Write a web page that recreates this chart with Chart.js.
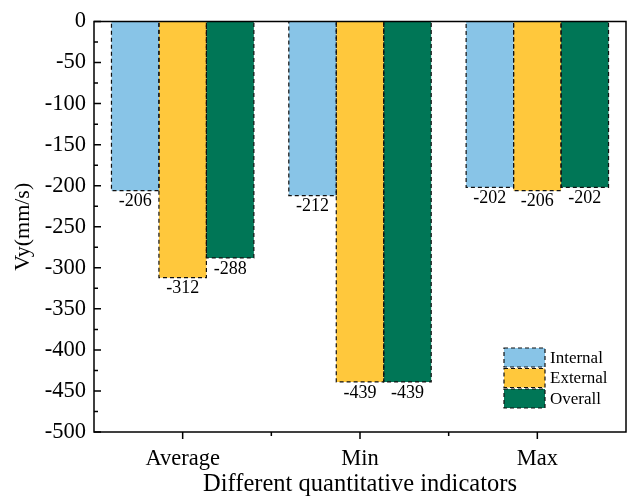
<!DOCTYPE html>
<html>
<head>
<meta charset="utf-8">
<script src="https://cdn.jsdelivr.net/npm/chart.js@4.4.0/dist/chart.umd.min.js"></script>
<style>
  html, body { margin: 0; padding: 0; background: #fff; }
  #wrap { width: 627px; height: 496px; }
</style>
</head>
<body>
<div id="wrap"><canvas id="chart"></canvas></div>
<script>
const categories = ['Average', 'Min', 'Max'];
const internalVals = [-206, -212, -202];
const externalVals = [-312, -439, -206];
const overallVals = [-288, -439, -202];
const seriesNames = ['Internal', 'External', 'Overall'];
const seriesColors = ['#88c4e7', '#ffc83c', '#007656'];

const SERIF = '"Liberation Serif", "Times New Roman", serif';

// dashed bar outlines + value labels under each bar
const barDecor = {
    id: 'barDecor',
    afterDatasetsDraw(chart) {
        const ctx = chart.ctx;
        ctx.save();
        chart.data.datasets.forEach((ds, i) => {
            const meta = chart.getDatasetMeta(i);
            meta.data.forEach((bar, j) => {
                const p = bar.getProps(['x', 'y', 'base', 'width'], true);
                const left = p.x - p.width / 2;
                ctx.setLineDash([4, 3]);
                ctx.lineWidth = 1.2;
                ctx.strokeStyle = '#111';
                ctx.strokeRect(left, p.base, p.width, p.y - p.base);
                ctx.setLineDash([]);
                ctx.fillStyle = '#000';
                ctx.font = '18px ' + SERIF;
                ctx.textAlign = 'center';
                ctx.textBaseline = 'top';
                ctx.fillText(String(ds.data[j]), p.x, p.y + 2);
            });
        });
        ctx.restore();
    }
};

// frame and tick marks (y inward, x outward)
const frameTicks = {
    id: 'frameTicks',
    afterDraw(chart) {
        const ctx = chart.ctx;
        const a = chart.chartArea;
        const y = chart.scales.y;
        const x = chart.scales.x;
        ctx.save();
        ctx.strokeStyle = '#000';
        ctx.lineWidth = 1.5;
        ctx.strokeRect(a.left, a.top, a.right - a.left, a.bottom - a.top);
        ctx.beginPath();
        for (let v = 0; v >= -500; v -= 25) {
            const py = y.getPixelForValue(v);
            const len = (v % 50 === 0) ? 7 : 4;
            ctx.moveTo(a.left, py);
            ctx.lineTo(a.left + len, py);
        }
        categories.forEach((c, i) => {
            const px = x.getPixelForValue(i);
            ctx.moveTo(px, a.bottom);
            ctx.lineTo(px, a.bottom + 7);
        });
        for (let i = 0; i < categories.length - 1; i++) {
            const px = (x.getPixelForValue(i) + x.getPixelForValue(i + 1)) / 2;
            ctx.moveTo(px, a.bottom);
            ctx.lineTo(px, a.bottom + 4);
        }
        ctx.stroke();
        ctx.restore();
    }
};

// legend inside the plot, bottom right
const boxLegend = {
    id: 'boxLegend',
    afterDraw(chart) {
        const ctx = chart.ctx;
        ctx.save();
        const bx = 504, by = 348, bw = 41, bh = 19, gap = 20.5;
        chart.data.datasets.forEach((ds, i) => {
            const top = by + i * gap;
            ctx.fillStyle = ds.backgroundColor;
            ctx.fillRect(bx, top, bw, bh);
            ctx.setLineDash([4, 3]);
            ctx.lineWidth = 1.2;
            ctx.strokeStyle = '#111';
            ctx.strokeRect(bx, top, bw, bh);
            ctx.setLineDash([]);
            ctx.fillStyle = '#000';
            ctx.font = '17px ' + SERIF;
            ctx.textAlign = 'left';
            ctx.textBaseline = 'middle';
            ctx.fillText(ds.label, bx + bw + 5, top + bh / 2 + 1);
        });
        ctx.restore();
    }
};

new Chart(document.getElementById('chart'), {
    type: 'bar',
    data: {
        labels: categories,
        datasets: [
            { label: seriesNames[0], data: internalVals, backgroundColor: seriesColors[0] },
            { label: seriesNames[1], data: externalVals, backgroundColor: seriesColors[1] },
            { label: seriesNames[2], data: overallVals, backgroundColor: seriesColors[2] }
        ]
    },
    options: {
        responsive: true,
        maintainAspectRatio: false,
        animation: false,
        layout: { padding: { top: 17, right: 1, left: 0, bottom: 0 } },
        datasets: { bar: { categoryPercentage: 0.803, barPercentage: 1, borderWidth: 0 } },
        plugins: {
            legend: { display: false },
            tooltip: { enabled: false }
        },
        scales: {
            x: {
                grid: { display: false, drawTicks: false },
                border: { display: false },
                ticks: { color: '#000', padding: 14, font: { family: SERIF, size: 22.5 } },
                title: {
                    display: true, text: 'Different quantitative indicators', color: '#000',
                    font: { family: SERIF, size: 24.5 }, padding: { top: 0, bottom: -3 }
                },
                afterFit: s => { s.height = 64; }
            },
            y: {
                min: -500, max: 0,
                grid: { display: false, drawTicks: false },
                border: { display: false },
                ticks: { stepSize: 50, color: '#000', padding: 8, font: { family: SERIF, size: 22.5 } },
                title: {
                    display: true, text: 'Vy(mm/s)', color: '#000',
                    font: { family: SERIF, size: 22 }, padding: { top: 10, bottom: 0 }
                },
                afterFit: s => { s.width = 94; }
            }
        }
    },
    plugins: [barDecor, frameTicks, boxLegend]
});
</script>
</body>
</html>
